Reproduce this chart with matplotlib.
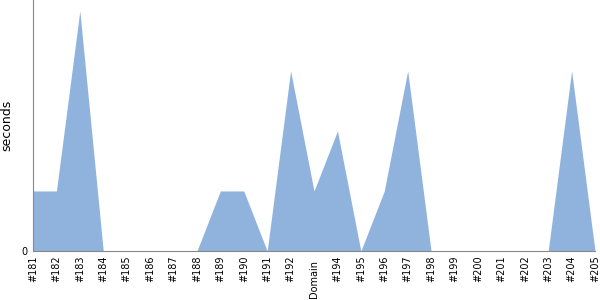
import numpy as np
import matplotlib.pyplot as plt

labels = ["#%d" % i for i in range(181, 206)]
seconds = [1, 1, 4, 0, 0, 0, 0, 0, 1, 1, 0, 3, 1, 2, 0, 1, 3, 0, 0, 0, 0, 0, 0, 3, 0]

fig = plt.figure(figsize=(6, 3), dpi=100)
ax = fig.add_axes([0.055, 0.1633, 0.9367, 0.8367])
x = np.arange(len(labels))
ax.fill_between(x, seconds, 0, color="#90b3dd", linewidth=0)
ax.set_xlim(0, len(labels) - 1)
ax.set_ylim(0, 4.18)
ax.set_yticks([0])
ax.set_xticks(x)
ax.set_xticklabels(labels, rotation=90, fontsize=7)
ax.get_xticklabels()[12].set_visible(False)  # hidden under the axis title
ax.tick_params(axis="y", labelsize=7, length=0, pad=4)
ax.tick_params(axis="x", length=0, pad=3)
for s in ["top", "right"]:
    ax.spines[s].set_visible(False)
for s in ["left", "bottom"]:
    ax.spines[s].set_color("#888888")
    ax.spines[s].set_linewidth(0.8)
ax.set_ylabel("seconds", fontsize=9, labelpad=6)
ax.text(x[12], -0.15, "Domain", rotation=90, ha="center", va="top", fontsize=7)
plt.savefig("out.png", dpi=100)
